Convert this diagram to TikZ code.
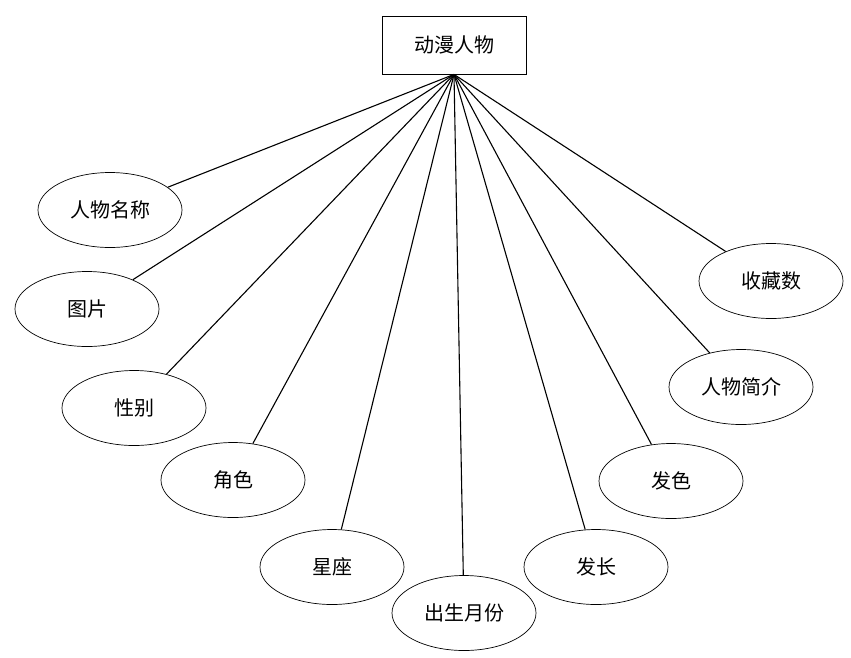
\documentclass[tikz,border=0pt]{standalone}
\usepackage{fontspec}
\newfontfamily\cjk{Noto Sans CJK SC}
\usetikzlibrary{shapes.geometric}

\begin{document}
\begin{tikzpicture}[
    x=1pt, y=-1pt,
    every node/.style={font=\cjk\fontsize{20}{20}\selectfont},
    entity/.style={rectangle, draw, line width=0.8pt, minimum width=144pt, minimum height=58pt, inner sep=0pt},
    attr/.style={ellipse, draw, line width=0.7pt, minimum width=144pt, minimum height=75pt, inner sep=0pt},
    link/.style={line width=1.1pt},
]
\useasboundingbox (0,0) rectangle (851,657);

\node[entity] (role) at (454,45) {动漫人物};

\node[attr] (name) at (110,210) {人物名称};
\node[attr] (pic) at (87,309) {图片};
\node[attr] (sex) at (134,408) {性别};
\node[attr] (part) at (233,480) {角色};
\node[attr] (star) at (332,567) {星座};
\node[attr] (birth) at (464,613) {出生月份};
\node[attr] (hairlen) at (596,567) {发长};
\node[attr] (haircol) at (671,481) {发色};
\node[attr] (intro) at (741,387) {人物简介};
\node[attr] (fav) at (771,281) {收藏数};

% every attribute hangs off the bottom of the entity box
\draw[link] (role.south) -- (name);
\draw[link] (role.south) -- (pic);
\draw[link] (role.south) -- (sex);
\draw[link] (role.south) -- (part);
\draw[link] (role.south) -- (star);
\draw[link] (role.south) -- (birth);
\draw[link] (role.south) -- (hairlen);
\draw[link] (role.south) -- (haircol);
\draw[link] (role.south) -- (intro);
\draw[link] (role.south) -- (fav);

\end{tikzpicture}
\end{document}
